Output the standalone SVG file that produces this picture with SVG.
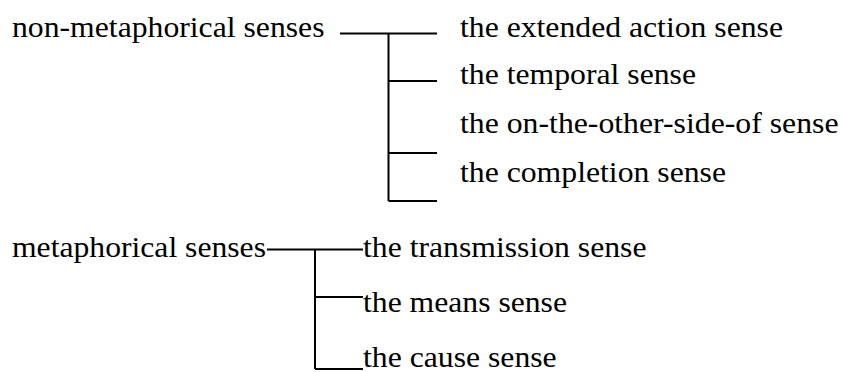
<svg xmlns="http://www.w3.org/2000/svg" width="843" height="372" viewBox="0 0 843 372">
<style>
  .t { font-family: 'Liberation Serif', 'Times New Roman', Times, serif; font-size: 29px; fill: #000; }
  .c { stroke: #000; stroke-width: 2; fill: none; }
</style>
<rect width="843" height="372" fill="#fff"/>
<g id="connectors">
  <path class="c" d="M340 33.5H437M388.5 33.5V201M388.5 81H437M388.5 153H437M388.5 201H437"/>
  <path class="c" d="M267 249.5H363M315 249.5V369M315 297H363M315 369H363"/>
</g>
<g id="non-metaphorical"><text class="t" x="12" y="37" textLength="312.5" lengthAdjust="spacingAndGlyphs">non-metaphorical senses</text></g>
<g id="extended-action"><text class="t" x="460" y="36.5" textLength="323" lengthAdjust="spacingAndGlyphs">the extended action sense</text></g>
<g id="temporal"><text class="t" x="460" y="84" textLength="236" lengthAdjust="spacingAndGlyphs">the temporal sense</text></g>
<g id="other-side"><text class="t" x="460" y="133" textLength="378.5" lengthAdjust="spacingAndGlyphs">the on-the-other-side-of sense</text></g>
<g id="completion"><text class="t" x="460" y="181.5" textLength="266" lengthAdjust="spacingAndGlyphs">the completion sense</text></g>
<g id="metaphorical"><text class="t" x="12" y="257" textLength="254" lengthAdjust="spacingAndGlyphs">metaphorical senses</text></g>
<g id="transmission"><text class="t" x="363" y="257" textLength="283.5" lengthAdjust="spacingAndGlyphs">the transmission sense</text></g>
<g id="means"><text class="t" x="363" y="311.5" textLength="204" lengthAdjust="spacingAndGlyphs">the means sense</text></g>
<g id="cause"><text class="t" x="363" y="367" textLength="193.7" lengthAdjust="spacingAndGlyphs">the cause sense</text></g>
</svg>
